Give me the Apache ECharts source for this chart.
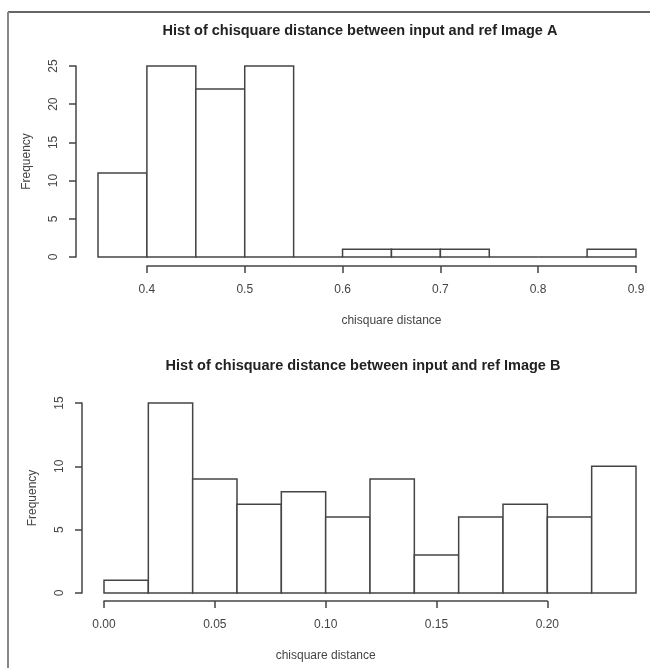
<!DOCTYPE html>
<html>
<head>
<meta charset="utf-8">
<script src="https://cdn.jsdelivr.net/npm/echarts@6/dist/echarts.min.js"></script>
<style>
  html, body { margin: 0; padding: 0; background: #fff; }
  #chart { width: 650px; height: 668px; }
</style>
</head>
<body>
<div id="chart"></div>
<script>
// histogram A: bin edges and counts
const edgesA = [0.35, 0.40, 0.45, 0.50, 0.55, 0.60, 0.65, 0.70, 0.75, 0.80, 0.85, 0.90]
const countsA = [11, 25, 22, 25, 0, 1, 1, 1, 0, 0, 1]
const xTicksA = [0.4, 0.5, 0.6, 0.7, 0.8, 0.9]
const yTicksA = [0, 5, 10, 15, 20, 25]

// histogram B
const edgesB = [0.00, 0.02, 0.04, 0.06, 0.08, 0.10, 0.12, 0.14, 0.16, 0.18, 0.20, 0.22, 0.24]
const countsB = [1, 15, 9, 7, 8, 6, 9, 3, 6, 7, 6, 10]
const xTicksB = [0.00, 0.05, 0.10, 0.15, 0.20]
const yTicksB = [0, 5, 10, 15]

const titleA = 'Hist of chisquare distance between input and ref Image A'
const titleB = 'Hist of chisquare distance between input and ref Image B'

const FONT = '"Liberation Sans", Arial, sans-serif'
const LINE = '#444'
const TEXT = '#444'

const toBins = (edges, counts) => counts.map((c, i) => [edges[i], edges[i + 1], c])

// 柱子 (rect from bin start to bin end)
const renderBar = (params, api) => {
    const p0 = api.coord([api.value(0), api.value(2)])
    const p1 = api.coord([api.value(1), 0])
    return {
        type: 'rect',
        shape: { x: p0[0], y: p0[1], width: p1[0] - p0[0], height: p1[1] - p0[1] },
        style: { fill: '#fff', stroke: LINE, lineWidth: 1.5 }
    }
}

// plot area layout
const W = 650
const plotA = { left: 98, right: 14, top: 66, height: 191 }
const plotB = { left: 104, right: 14, top: 403, height: 190 }

// the R style axis line only spans first..last tick, so it gets its own grid
const axisGrid = (plot, lo, hi, ticks) => {
    const w = W - plot.left - plot.right
    const px = v => plot.left + (v - lo) / (hi - lo) * w
    return {
        left: px(ticks[0]),
        width: px(ticks[ticks.length - 1]) - px(ticks[0]),
        top: plot.top,
        height: plot.height
    }
}

const gridAxisA = axisGrid(plotA, edgesA[0], edgesA[edgesA.length - 1], xTicksA)
const gridAxisB = axisGrid(plotB, edgesB[0], edgesB[edgesB.length - 1], xTicksB)

const yAxisStyle = (ticks, gridIndex) => ({
    type: 'value',
    gridIndex,
    min: ticks[0],
    max: ticks[ticks.length - 1],
    offset: 22,
    name: 'Frequency',
    nameLocation: 'middle',
    nameGap: 43,
    nameRotate: 90,
    nameTextStyle: { color: TEXT, fontFamily: FONT, fontSize: 12 },
    axisLine: { show: true, onZero: false, lineStyle: { color: LINE, width: 1.5 } },
    axisTick: { show: true, length: 7, lineStyle: { color: LINE, width: 1.5 }, customValues: ticks },
    axisLabel: { rotate: 90, margin: 16, color: TEXT, fontFamily: FONT, fontSize: 12, customValues: ticks },
    splitLine: { show: false }
})

const xAxisStyle = (ticks, gridIndex, fmt) => ({
    type: 'value',
    gridIndex,
    min: ticks[0],
    max: ticks[ticks.length - 1],
    position: 'bottom',
    offset: 9,
    name: 'chisquare distance',
    nameLocation: 'middle',
    nameGap: 49,
    nameTextStyle: { color: TEXT, fontFamily: FONT, fontSize: 12 },
    axisLine: { show: true, onZero: false, lineStyle: { color: LINE, width: 1.5 } },
    axisTick: { show: true, length: 7, lineStyle: { color: LINE, width: 1.5 }, customValues: ticks },
    axisLabel: { margin: 18, color: TEXT, fontFamily: FONT, fontSize: 12, customValues: ticks, formatter: fmt },
    splitLine: { show: false }
})

const hiddenAxis = (gridIndex, min, max) => ({
    type: 'value', gridIndex, min, max, show: false,
    axisLine: { onZero: false }, splitLine: { show: false }
})

const chart = echarts.init(document.getElementById('chart'))

const option = {
    backgroundColor: '#fff',
    animation: false,
    title: [
        {
            text: titleA, left: 355, top: 18, textAlign: 'center',
            textStyle: { fontFamily: FONT, fontSize: 14.5, fontWeight: 'bold', color: '#222' }
        },
        {
            text: titleB, left: 358, top: 353, textAlign: 'center',
            textStyle: { fontFamily: FONT, fontSize: 14.5, fontWeight: 'bold', color: '#222' }
        }
    ],
    graphic: [
        { type: 'line', shape: { x1: 8, y1: 12, x2: 650, y2: 12 }, style: { stroke: '#333', lineWidth: 1.5 } },
        { type: 'line', shape: { x1: 8, y1: 12, x2: 8, y2: 668 }, style: { stroke: '#888', lineWidth: 2 } }
    ],
    grid: [
        { left: plotA.left, right: plotA.right, top: plotA.top, height: plotA.height },
        gridAxisA,
        { left: plotB.left, right: plotB.right, top: plotB.top, height: plotB.height },
        gridAxisB
    ],
    xAxis: [
        hiddenAxis(0, edgesA[0], edgesA[edgesA.length - 1]),
        xAxisStyle(xTicksA, 1, v => String(Math.round(v * 10) / 10)),
        hiddenAxis(2, edgesB[0], edgesB[edgesB.length - 1]),
        Object.assign(xAxisStyle(xTicksB, 3, v => v.toFixed(2)), { offset: 8 })
    ],
    yAxis: [
        yAxisStyle(yTicksA, 0),
        hiddenAxis(1, 0, 1),
        yAxisStyle(yTicksB, 2),
        hiddenAxis(3, 0, 1)
    ],
    series: [
        {
            type: 'custom',
            xAxisIndex: 0,
            yAxisIndex: 0,
            renderItem: renderBar,
            encode: { x: [0, 1], y: 2 },
            data: toBins(edgesA, countsA)
        },
        {
            type: 'custom',
            xAxisIndex: 2,
            yAxisIndex: 2,
            renderItem: renderBar,
            encode: { x: [0, 1], y: 2 },
            data: toBins(edgesB, countsB)
        }
    ]
}

chart.setOption(option)
</script>
</body>
</html>
